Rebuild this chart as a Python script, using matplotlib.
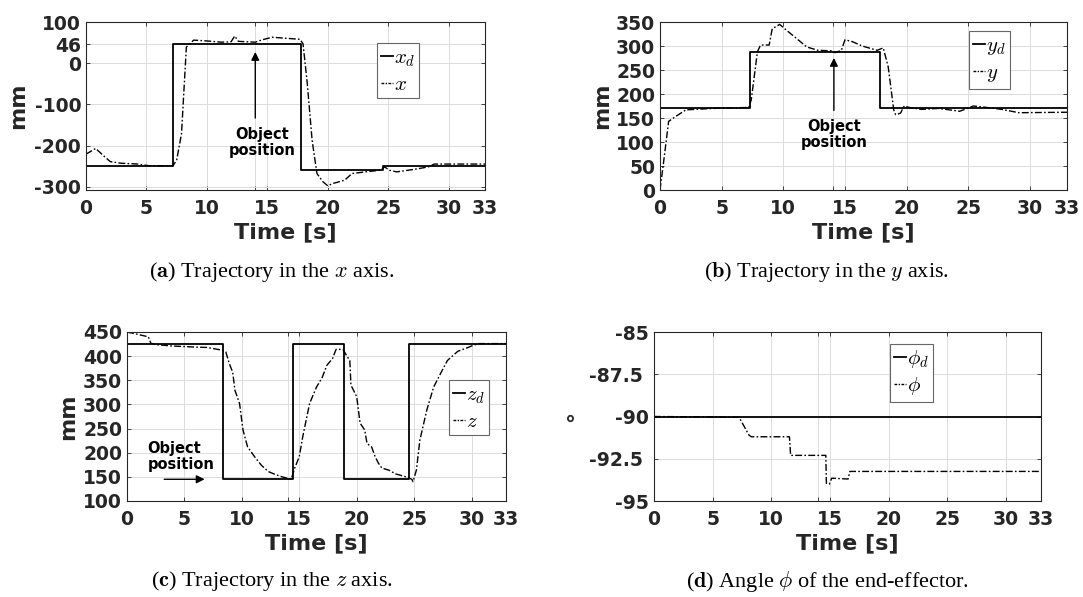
import matplotlib
matplotlib.use('Agg')
import matplotlib.pyplot as plt
from matplotlib.lines import Line2D

plt.rcParams['mathtext.fontset'] = 'cm'
plt.rcParams['font.family'] = 'DejaVu Sans'

# ── Data ──
# (a) x axis
xd_t = [0, 0, 7.2, 7.2, 17.8, 17.8, 24.6, 24.6, 33]
xd_v = [0, -250, -250, 46, 46, -260, -260, -250, -250]
x_t = [0, 0.8, 1.2, 1.5, 2.0, 2.9, 4.3, 5.2, 7.2, 7.5, 7.9, 8.3, 8.9, 10.0, 11.2,
       12.0, 12.3, 12.6, 14.0, 14.6, 15.4, 16.3, 17.7, 17.95, 18.3, 18.7, 19.1,
       19.6, 20.0, 20.4, 20.7, 21.4, 22.0, 23.1, 24.3, 24.7, 25.1, 25.7, 27.1,
       28.3, 28.8, 33]
x_v = [-221, -207, -218, -226, -239, -243, -245, -249, -249, -235, -171, 39, 56, 54, 51,
       52, 66, 53, 51, 57, 63, 61, 58, 47, -49, -187, -268,
       -288, -298, -292, -290, -284, -268, -264, -260, -252, -260, -264, -258,
       -252, -245, -245]

# (b) y axis
yd_t = [0, 0, 7.3, 7.3, 17.8, 17.8, 33]
yd_v = [0, 170, 170, 288, 288, 170, 170]
y_t = [0, 0.3, 0.7, 1.26, 2.1, 4.35, 7.2, 7.4, 7.9, 8.15, 8.85, 9.1, 9.7, 10.25,
       11.1, 11.9, 12.8, 13.9, 14.2, 14.7, 15.0, 15.6, 16.4, 17.6, 18.1, 18.5,
       18.95, 19.1, 19.5, 19.8, 20.2, 21.2, 22.6, 24.3, 25.4, 26.5, 27.7, 29.1, 33]
y_v = [0, 60, 143, 153, 167, 170, 172, 188, 288, 302, 302, 336, 345, 333,
       315, 298, 291, 290, 286, 291, 313, 309, 300, 291, 296, 257,
       167, 157, 160, 175, 172, 168, 170, 164, 175, 172, 168, 161, 162]

# (c) z axis
zd_t = [0, 0, 8.4, 8.4, 14.45, 14.45, 18.9, 18.9, 24.55, 24.55, 33]
zd_v = [0, 425, 425, 145, 145, 425, 425, 145, 145, 425, 425]
z_t = [0, 0.96, 1.86, 2.07, 2.46, 3.95, 5.75, 6.95, 8.14, 8.6, 8.9, 9.2, 9.4, 9.8,
       10.1, 10.5, 11.1, 11.7, 12.3, 12.9, 13.5, 14.3, 14.6, 15.0, 15.3, 15.9,
       16.5, 17.0, 17.4, 17.9, 18.2, 18.8, 19.1, 19.4, 19.5, 20.0, 20.3, 20.7,
       20.9, 21.3, 21.6, 21.9, 22.2, 22.8, 23.4, 24.3, 24.8, 24.9, 25.2, 25.5,
       26.1, 26.7, 27.3, 27.9, 28.8, 29.7, 30.1, 30.6, 33]
z_v = [450, 445, 440, 427, 424, 421, 419, 418, 413, 409, 385, 367, 329, 302,
       247, 212, 192, 174, 161, 155, 150, 145, 168, 192, 233, 302,
       336, 356, 381, 395, 414, 414, 402, 391, 340, 316, 261, 247,
       219, 212, 192, 178, 168, 164, 156, 150, 145, 140, 164, 226,
       288, 336, 364, 391, 410, 418, 422, 426, 426]

# (d) angle phi
phd_t = [0, 0, 33]
phd_v = [0, -90, -90]
ph_t = [0, 7.25, 8.1, 8.3, 11.55, 11.65, 14.65, 14.7, 14.95, 15.15, 16.55, 16.7, 33]
ph_v = [-90, -90.04, -91.1, -91.2, -91.2, -92.3, -92.3, -93.95, -94.0, -93.65, -93.7, -93.25, -93.25]

xticks = [0, 5, 10, 14, 15, 20, 25, 30, 33]
xticklabels = ['0', '5', '10', '', '15', '20', '25', '30', '33']

W, H = 1083, 597
fig = plt.figure(figsize=(W / 100, H / 100), dpi=100)
fig.patch.set_facecolor('white')

axis_col = '#262626'
tick_font = dict(fontsize=13.5, fontweight='bold', color=axis_col)
lab_font = dict(fontsize=16, fontweight='bold', color=axis_col)


def add_ax(l, t, r, b):
    return fig.add_axes([l / W, 1 - b / H, (r - l) / W, (b - t) / H])


def style(ax, ylim, yticks, yticklabels, ylabel, ylab_x):
    ax.set_xlim(0, 33)
    ax.set_ylim(*ylim)
    ax.set_xticks(xticks)
    ax.set_xticklabels(xticklabels, **tick_font)
    ax.set_yticks(yticks)
    ax.set_yticklabels(yticklabels, **tick_font)
    ax.tick_params(direction='in', length=3, width=0.6, colors=axis_col,
                   top=True, right=True)
    ax.tick_params(axis='x', pad=6.5)
    ax.tick_params(axis='y', pad=3.5)
    ax.grid(True, color='#dcdcdc', linewidth=0.7)
    ax.set_axisbelow(True)
    for s in ax.spines.values():
        s.set_color(axis_col)
        s.set_linewidth(0.8)
    ax.set_xlabel('Time [s]', labelpad=3, **lab_font)
    ax.set_ylabel(ylabel, **lab_font)
    ax.yaxis.set_label_coords(ylab_x, 0.5)


def plot_pair(ax, td, vd, t, v, labels, leg_xy):
    ax.plot(td, vd, color='black', lw=1.3)
    ax.plot(t, v, color='black', lw=1.0, dashes=(5, 1.6, 1.2, 1.6))
    handles = [Line2D([], [], color='black', lw=1.3),
               Line2D([], [], color='black', lw=1.0, dashes=(2, 1, 1, 1))]
    ax.legend(handles, labels, loc='upper left',
              bbox_to_anchor=(leg_xy[0] / W, 1 - leg_xy[1] / H),
              bbox_transform=fig.transFigure, fancybox=False, framealpha=1,
              edgecolor='#666666', fontsize=15, handlelength=0.55,
              handletextpad=0.05, borderpad=0.2, labelspacing=0.25,
              borderaxespad=0)
    ax.get_legend().get_frame().set_linewidth(0.8)


obj_font = dict(fontsize=10.5, fontweight='bold', color='black')
arrow = dict(arrowstyle='-|>', color='black', lw=1.0, mutation_scale=12)

# ── (a) ──
ax = add_ax(86, 22, 485, 190)
plot_pair(ax, xd_t, xd_v, x_t, x_v, [r'$x_d$', r'$x$'], (377, 43))
style(ax, (-308, 100), [-300, -200, -100, 0, 46, 100],
      ['-300', '-200', '-100', '0', '46', '100'], 'mm', -0.145)
ax.annotate('', xy=(14, 34), xytext=(14, -140), arrowprops=arrow)
ax.text(14.6, -192, 'Object\nposition', ha='center', va='center',
        linespacing=1.1, **obj_font)

# ── (b) ──
ax = add_ax(660, 22, 1067, 190)
plot_pair(ax, yd_t, yd_v, y_t, y_v, [r'$y_d$', r'$y$'], (969, 31))
style(ax, (0, 350), list(range(0, 351, 50)),
      [str(v) for v in range(0, 351, 50)], 'mm', -0.118)
ax.annotate('', xy=(14.1, 281), xytext=(14.1, 160), arrowprops=arrow)
ax.text(14.1, 116, 'Object\nposition', ha='center', va='center',
        linespacing=1.1, **obj_font)

# ── (c) ──
ax = add_ax(127, 332, 506, 501)
plot_pair(ax, zd_t, zd_v, z_t, z_v, [r'$z_d$', r'$z$'], (449, 380))
style(ax, (100, 450), list(range(100, 451, 50)),
      [str(v) for v in range(100, 451, 50)], 'mm', -0.13)
ax.annotate('', xy=(7.0, 145), xytext=(3.0, 145), arrowprops=arrow)
ax.text(1.8, 192, 'Object\nposition', ha='left', va='center',
        linespacing=1.1, **obj_font)

# ── (d) ──
ax = add_ax(654, 332, 1041, 501)
plot_pair(ax, phd_t, phd_v, ph_t, ph_v, [r'$\phi_d$', r'$\phi$'], (890, 344))
style(ax, (-95, -85), [-95, -92.5, -90, -87.5, -85],
      ['-95', '-92.5 ', '-90', '-87.5 ', '-85'], '°', -0.175)

# ── captions ──
cap = dict(fontsize=16, family='Liberation Serif', ha='center', va='center',
           color='black')
fig.text(272 / W, 1 - 272 / H, r'($\mathbf{a}$) Trajectory in the $x$ axis.', **cap)
fig.text(826 / W, 1 - 272 / H, r'($\mathbf{b}$) Trajectory in the $y$ axis.', **cap)
fig.text(272 / W, 1 - 581 / H, r'($\mathbf{c}$) Trajectory in the $z$ axis.', **cap)
fig.text(828 / W, 1 - 581 / H, r'($\mathbf{d}$) Angle $\phi$ of the end-effector.', **cap)

fig.savefig('out.png', dpi=100, facecolor='white')
